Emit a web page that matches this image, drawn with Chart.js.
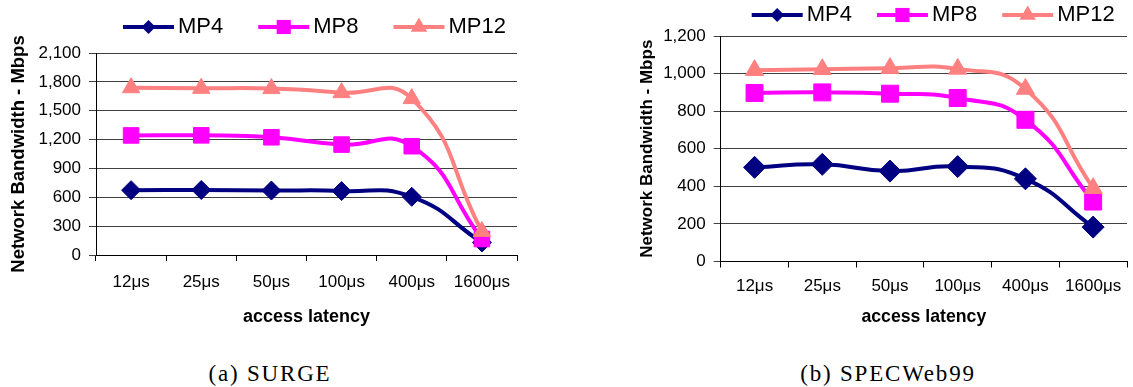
<!DOCTYPE html>
<html>
<head>
<meta charset="utf-8">
<script src="https://cdn.jsdelivr.net/npm/chart.js@4.4.1/dist/chart.umd.min.js"></script>
<style>
  body { margin: 0; width: 1133px; height: 387px; background: #fff; overflow: hidden; position: relative; }
  canvas { position: absolute; top: 0; }
  #surgeChart { left: 0; }
  #specChart { left: 620px; }
  .caption {
    position: absolute; top: 362px; width: 300px; text-align: center;
    font-family: "Liberation Serif", "Times New Roman", serif; font-size: 23px;
    letter-spacing: 1.8px; line-height: 23px; color: #000;
  }
</style>
</head>
<body>
<canvas id="surgeChart" width="565" height="335"></canvas>
<canvas id="specChart" width="520" height="335"></canvas>
<div class="caption" style="left:120px">(a) SURGE</div>
<div class="caption" style="left:738px">(b) SPECWeb99</div>

<script>
// access latency categories
const latencyLabels = ['12μs', '25μs', '50μs', '100μs', '400μs', '1600μs'];
const seriesNames = ['MP4', 'MP8', 'MP12'];

// (a) SURGE, Mbps
const surgeMP4 = [674, 676, 670, 665, 605, 130];
const surgeMP8 = [1243, 1244, 1224, 1148, 1131, 166];
const surgeMP12 = [1739, 1733, 1730, 1688, 1626, 244];
const surgeYMax = 2100;
const surgeYStep = 300;

// (b) SPECWeb99, Mbps
const specMP4 = [501, 517, 481, 505, 440, 183];
const specMP8 = [897, 900, 893, 870, 754, 319];
const specMP12 = [1018, 1023, 1029, 1025, 918, 390];
const specYMax = 1200;
const specYStep = 200;

const colors = ['#000080', '#ff00ff', '#ff8080'];
const shapes = ['rectRot', 'rect', 'triangle'];

Chart.defaults.font.family = '"Liberation Sans", Arial, sans-serif';
Chart.defaults.color = '#000';

function drawMarker(ctx, shape, r, x, y) {
  ctx.beginPath();
  if (shape === 'rectRot') {
    ctx.moveTo(x, y - r);
    ctx.lineTo(x + r, y);
    ctx.lineTo(x, y + r);
    ctx.lineTo(x - r, y);
  } else if (shape === 'rect') {
    const s = r * Math.SQRT1_2;
    ctx.rect(x - s, y - s, 2 * s, 2 * s);
  } else {
    ctx.moveTo(x, y - r);
    ctx.lineTo(x + 0.866 * r, y + 0.5 * r);
    ctx.lineTo(x - 0.866 * r, y + 0.5 * r);
  }
  ctx.closePath();
  ctx.fill();
}

// legend drawn as line + marker + label, like the excel one
const lineLegend = {
  id: 'lineLegend',
  afterDraw(chart, args, opts) {
    const ctx = chart.ctx;
    const legendMarks = [7, 10, 9.5];
    let x = opts.x;
    ctx.save();
    ctx.font = '22px "Liberation Sans", Arial, sans-serif';
    ctx.textBaseline = 'middle';
    chart.data.datasets.forEach((ds, i) => {
      ctx.strokeStyle = ds.borderColor;
      ctx.fillStyle = ds.borderColor;
      ctx.lineWidth = 4;
      ctx.beginPath();
      ctx.moveTo(x, opts.y);
      ctx.lineTo(x + 51, opts.y);
      ctx.stroke();
      drawMarker(ctx, ds.pointStyle, legendMarks[i], x + 25.5, opts.y);
      ctx.fillStyle = '#000';
      ctx.fillText(ds.label, x + 55, opts.y);
      x += 55 + ctx.measureText(ds.label).width + opts.gap;
    });
    ctx.restore();
  }
};

function makeChart(id, values, yMax, yStep, s) {
  const datasets = values.map((vals, i) => ({
    label: seriesNames[i],
    data: vals,
    borderColor: colors[i],
    backgroundColor: colors[i],
    pointBackgroundColor: colors[i],
    pointBorderColor: colors[i],
    pointBorderWidth: 1,
    pointStyle: shapes[i],
    pointRadius: s.marks[i],
    borderWidth: 4,
    borderCapStyle: 'round',
    borderJoinStyle: 'round',
    tension: 0.5,
    order: 3 - i
  }));

  return new Chart(document.getElementById(id), {
    type: 'line',
    data: { labels: latencyLabels, datasets: datasets },
    plugins: [lineLegend],
    options: {
      responsive: false,
      animation: false,
      locale: 'en-US',
      layout: { padding: { left: 0, right: s.padRight, top: s.padTop, bottom: 0 } },
      plugins: {
        legend: { display: false },
        tooltip: { enabled: false },
        lineLegend: { x: s.legendX, y: s.legendY, gap: s.legendGap }
      },
      scales: {
        x: {
          offset: true,
          grid: { drawOnChartArea: false, drawTicks: true, tickLength: 6, offset: true, color: '#000' },
          border: { display: true, color: '#000', width: 1 },
          ticks: { font: { size: 17 }, padding: s.xTickPad, maxRotation: 0, autoSkip: false },
          title: {
            display: true, text: 'access latency',
            font: { size: s.xTitleSize, weight: 'bold' },
            padding: { top: 0, bottom: s.xTitlePad }
          },
          afterFit: sc => { sc.height = s.xHeight; }
        },
        y: {
          min: 0,
          max: yMax,
          ticks: { stepSize: yStep, font: { size: 17 }, padding: 8 },
          grid: { color: '#404040', lineWidth: 1, tickLength: 7 },
          border: { display: true, color: '#000', width: 1 },
          title: {
            display: true, text: 'Network Bandwidth - Mbps',
            font: { size: s.yTitleSize, weight: 'bold' },
            padding: { top: s.yTitlePad, bottom: 0 }
          },
          afterFit: sc => { sc.width = s.yWidth; }
        }
      }
    }
  });
}

makeChart('surgeChart', [surgeMP4, surgeMP8, surgeMP12], surgeYMax, surgeYStep, {
  padRight: 48, padTop: 53, xHeight: 80, yWidth: 96, xTickPad: 11,
  xTitleSize: 18, xTitlePad: 7, yTitleSize: 18.5, yTitlePad: 7.5,
  legendX: 123, legendY: 27, legendGap: 35,
  marks: [9.5, 11, 10]
});

makeChart('specChart', [specMP4, specMP8, specMP12], specYMax, specYStep, {
  padRight: 5.6, padTop: 36, xHeight: 73.5, yWidth: 100.7, xTickPad: 9,
  xTitleSize: 17.7, xTitlePad: 7.2, yTitleSize: 17, yTitlePad: 17,
  legendX: 131.7, legendY: 15, legendGap: 25,
  marks: [11, 12, 10.5]
});
</script>
</body>
</html>
